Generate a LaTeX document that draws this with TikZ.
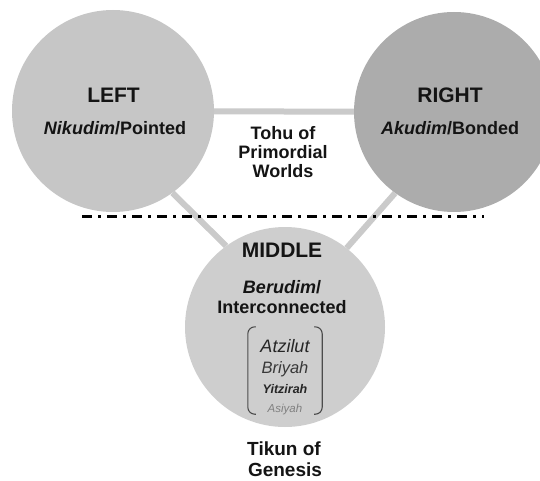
\documentclass[tikz,border=0pt]{standalone}
\usepackage{fontspec}
\setmainfont{Liberation Sans}
\usepackage{tikz}
\usetikzlibrary{positioning}
\definecolor{SefGray}{RGB}{198,198,198}
\definecolor{SefDark}{RGB}{172,172,172}
\definecolor{SefLight}{RGB}{206,206,206}
\definecolor{SefLink}{RGB}{202,202,202}
\definecolor{SefInk}{RGB}{20,20,20}

\begin{document}
\begin{tikzpicture}[x=1pt, y=-1pt,
          sefira/.style={circle, inner sep=0pt, minimum size=200pt},
          head/.style={anchor=base, text=SefInk, font=\fontsize{21}{23}\selectfont\bfseries},
          label/.style={anchor=base, text=SefInk, font=\fontsize{18}{20}\selectfont\bfseries},
          world/.style={anchor=base, text=#1},
          link/.style={line width=6pt, SefLink},
          cutline/.style={line width=3pt, black, dash pattern=on 10pt off 6pt on 3pt off 6pt},
          bracket/.style={line width=1.1pt, black!70, rounded corners=7pt}
        ]
        \clip (0,0) rectangle (540,481);

        % the three circles
        \node[sefira, minimum size=202pt] (left) at (113,111) {};
        \node[sefira] (right) at (454,112) {};
        \node[sefira] (middle) at (285,327) {};

        % links, kept behind the circles
        \draw[link] (left) -- (right);
        \draw[link] (left.-54) -- (middle.126);
        \draw[link] (right.-126) -- (middle.52);

        \fill[SefGray] (left) circle (101);
        \fill[SefDark] (right) circle (100);
        \fill[SefLight] (middle) circle (100);

        % left and right
        \node[head] (lefthead) at (113.5,103) {LEFT};
        \node[label] (leftsub) at (115,135) {\textit{Nikudim}/Pointed};
        \node[head] (righthead) at (450,103) {RIGHT};
        \node[label] (rightsub) at (450,135) {\textit{Akudim}/Bonded};

        % text between the circles
        \foreach \t/\y [count=\i] in {Tohu of/140, Primordial/158.5, Worlds/177} {
          \node[label] (tohu\i) at (283,\y) {\t};
        }

        % split line
        \coordinate (cutL) at (82,216);
        \coordinate (cutR) at (484,216);
        \draw[cutline] (cutL) -- (cutR);

        % middle
        \node[head] (midhead) at (282,257) {MIDDLE};
        \node[label] (midsub1) at (282,293) {\textit{Berudim}/};
        \node[label] (midsub2) at (282,313) {Interconnected};

        % the four worlds
        \node[minimum width=74pt, minimum height=87pt, inner sep=0pt] (worlds) at (285,370.5) {};
        \draw[bracket] ([xshift=8pt]worlds.north west) -- (worlds.north west)
              -- (worlds.south west) -- ([xshift=8pt]worlds.south west);
        \draw[bracket] ([xshift=-8pt]worlds.north east) -- (worlds.north east)
              -- (worlds.south east) -- ([xshift=-8pt]worlds.south east);
        \node[world=black!85, font=\fontsize{18}{20}\selectfont\itshape] (atz) at (285,352) {Atzilut};
        \node[world=black!78, font=\fontsize{16.5}{18}\selectfont\itshape] (bri) at (285,373) {Briyah};
        \node[world=black!85, font=\fontsize{12.5}{14}\selectfont\bfseries\itshape] (yit) at (285,393) {Yitzirah};
        \node[world=black!50, font=\fontsize{11.5}{13}\selectfont\itshape] (asi) at (285,412) {Asiyah};

        % below
        \node[label, font=\fontsize{19}{21}\selectfont\bfseries] (tikun1) at (284,455) {Tikun of};
        \node[label, font=\fontsize{19}{21}\selectfont\bfseries] (tikun2) at (285,476) {Genesis};
      \end{tikzpicture}
\end{document}
